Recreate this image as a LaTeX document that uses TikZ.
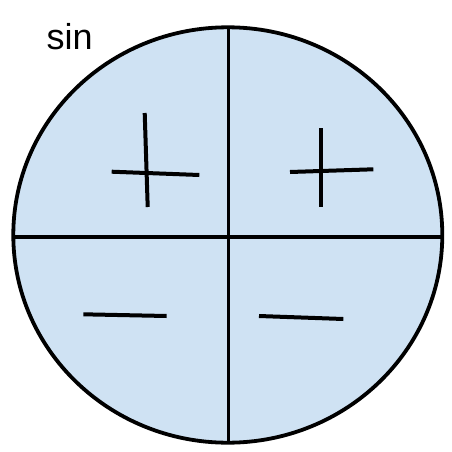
\documentclass[tikz,border=0pt]{standalone}
\usepackage{fontspec}
\setmainfont{Liberation Sans}
\definecolor{fillblue}{HTML}{CFE2F3}
\begin{document}
\begin{tikzpicture}[x=1pt,y=-1pt,
  outline/.style={draw=black,line width=3.8pt},
  signline/.style={draw=black,line width=4pt}]
\useasboundingbox (0,0) rectangle (451,452);
\path[outline,fill=fillblue] (227.8,235) ellipse [x radius=214.5, y radius=207.7];
\draw[outline] (228.5,27.3) -- (228.5,442.7);
\draw[outline] (13.3,237.3) -- (442.3,237.3);
% plus signs
\draw[signline] (144.7,113) -- (147.7,207);
\draw[signline] (111.7,171.7) -- (199.3,175);
\draw[signline] (321.3,128.3) -- (321.3,207.3);
\draw[signline] (290,172) -- (373.3,169.3);
% minus signs
\draw[signline] (83.3,314.3) -- (166.7,316);
\draw[signline] (259,316) -- (343.3,319);
\node[anchor=base west,inner sep=0pt,font=\fontsize{36}{40}\selectfont] (lbl) at (46.5,49.3) {sin};
\end{tikzpicture}
\end{document}
